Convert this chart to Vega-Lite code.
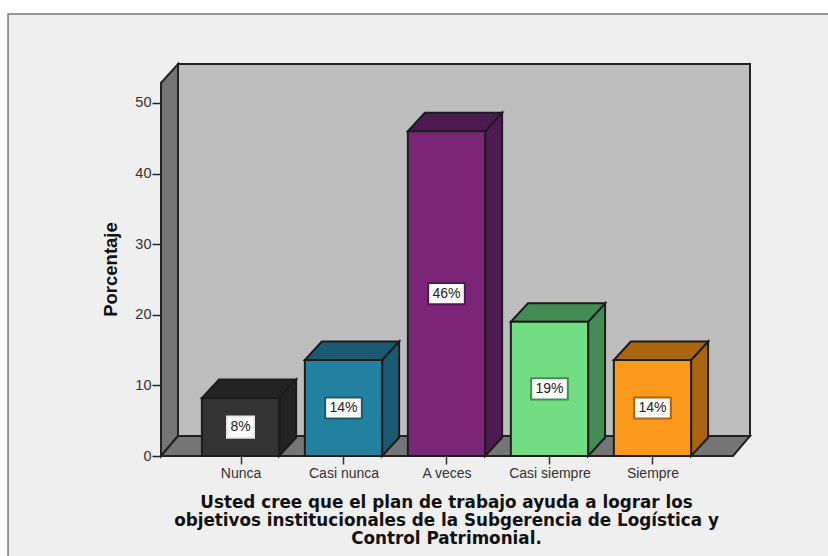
{
"$schema":"https://vega.github.io/schema/vega-lite/v6.json",
"autosize":"none","width":589,"height":392,
"padding":{"left":161,"top":64,"right":78,"bottom":100},
"background":"white",
"config":{"view":{"stroke":null},"font":"Liberation Sans"},
"resolve":{"axis":{"x":"independent","y":"independent"}},
"layer":[
{"data":{"values":[{"x":-1.257,"x2":8,"y":62.6,"y2":-15}]},"mark":{"type":"rect","fill":"#efefef","stroke":"#7a7a7a","strokeWidth":1.5},
"encoding":{
"x":{"field":"x","type":"quantitative","scale":{"domain":[0.228,5.947],"nice":false,"zero":false},
"axis":{"values":[1,2,3,4,5],"labelExpr":"['Nunca','Casi nunca','A veces','Casi siempre','Siempre'][datum.value-1]","grid":false,"domain":false,"tickSize":8,"tickWidth":1.5,"tickColor":"#333333","labelFontSize":14,"labelColor":"#333333","labelPadding":2,"labelFlush":false,"labelOverlap":false,"zindex":1,
"title":["Usted cree que el plan de trabajo ayuda a lograr los","objetivos institucionales de la Subgerencia de Logística y","Control Patrimonial."],
"titleFont":"DejaVu Sans","titleFontSize":16.8,"titleFontWeight":"bold","titleColor":"#111111","titleX":285,"titleY":51,"titleAlign":"center","titleBaseline":"alphabetic","titleLineHeight":18}},
"x2":{"field":"x2"},
"y":{"field":"y","type":"quantitative","scale":{"domain":[0,55.52],"nice":false,"zero":false},
"axis":{"values":[0,10,20,30,40,50],"grid":false,"domain":false,"tickSize":9,"tickWidth":1.5,"tickColor":"#222222","labelFontSize":14.5,"labelColor":"#333333","labelPadding":1,"zindex":1,
"title":"Porcentaje","titleFont":"Liberation Sans","titleFontSize":18.5,"titleFontWeight":"bold","titleColor":"#111111","titleX":-45,"titleY":205,"titleAlign":"center","titleBaseline":"alphabetic"}},
"y2":{"field":"y2"}}},
{"data":{"values":[{"x":0.393,"x2":5.947,"y":2.83,"y2":55.52}]},"mark":{"type":"rect","fill":"#bdbdbd","stroke":"#222222","strokeWidth":2},
"encoding":{"x":{"field":"x","type":"quantitative","axis":null},"x2":{"field":"x2"},"y":{"field":"y","type":"quantitative","axis":null},"y2":{"field":"y2"}}},
{"data":{"values":[{"fondo":0},{"fondo":1}]},
"transform":[{"calculate":"0.228+datum.fondo*0.165","as":"x"},{"calculate":"datum.fondo*2.83","as":"y"},{"calculate":"52.83+datum.fondo*2.69","as":"y2"}],
"mark":{"type":"area","orient":"vertical","fill":"#757575","stroke":"#222222","strokeWidth":2},
"encoding":{"x":{"field":"x","type":"quantitative","axis":null},"y":{"field":"y","type":"quantitative","stack":null,"axis":null},"y2":{"field":"y2"}}},
{"data":{"values":[{"fondo":0},{"fondo":1}]},
"transform":[{"calculate":"0.228+datum.fondo*0.165","as":"x"},{"calculate":"5.782+datum.fondo*0.165","as":"x2"},{"calculate":"datum.fondo*2.83","as":"y"}],
"mark":{"type":"area","orient":"horizontal","fill":"#757575","stroke":"#222222","strokeWidth":2},
"encoding":{"y":{"field":"y","type":"quantitative","axis":null},"x":{"field":"x","type":"quantitative","stack":null,"axis":null},"x2":{"field":"x2"}}},
{"data":{"name":"barras","values":[
{"categoria":"Nunca","porcentaje":8.2},
{"categoria":"Casi nunca","porcentaje":13.6},
{"categoria":"A veces","porcentaje":46},
{"categoria":"Casi siempre","porcentaje":19},
{"categoria":"Siempre","porcentaje":13.6}
]},
"transform":[{"calculate":"indexof(['Nunca','Casi nunca','A veces','Casi siempre','Siempre'],datum.categoria)+1","as":"pos"},{"calculate":"[0,1]","as":"fondo"},{"flatten":["fondo"]},
{"calculate":"datum.pos+0.375+datum.fondo*0.165","as":"x"},{"calculate":"datum.fondo*2.62","as":"y"},{"calculate":"datum.porcentaje+datum.fondo*2.62","as":"y2"},{"calculate":"datum.categoria+' lateral'","as":"cara"}],
"mark":{"type":"area","orient":"vertical","stroke":"#1c1c1c","strokeWidth":2},
"encoding":{"x":{"field":"x","type":"quantitative","axis":null},"y":{"field":"y","type":"quantitative","stack":null,"axis":null},"y2":{"field":"y2"},
"fill":{"field":"cara","type":"nominal","legend":null,"scale":{"domain":["Nunca","Casi nunca","A veces","Casi siempre","Siempre","Nunca lateral","Casi nunca lateral","A veces lateral","Casi siempre lateral","Siempre lateral"],"range":["#333333","#23809f","#7b2579","#72dd83","#fb991c","#232323","#1a5a72","#4e1a52","#448c55","#a9660f"]}}}},
{"data":{"name":"barras"},"transform":[{"calculate":"indexof(['Nunca','Casi nunca','A veces','Casi siempre','Siempre'],datum.categoria)+1","as":"pos"},{"calculate":"[0,1]","as":"fondo"},{"flatten":["fondo"]},
{"calculate":"datum.pos-0.375+datum.fondo*0.165","as":"x"},{"calculate":"datum.pos+0.375+datum.fondo*0.165","as":"x2"},{"calculate":"datum.porcentaje+datum.fondo*2.62","as":"y"},{"calculate":"datum.categoria+' lateral'","as":"cara"}],
"mark":{"type":"area","orient":"horizontal","stroke":"#1c1c1c","strokeWidth":2},
"encoding":{"y":{"field":"y","type":"quantitative","axis":null},"x":{"field":"x","type":"quantitative","stack":null,"axis":null},"x2":{"field":"x2"},
"fill":{"field":"cara","type":"nominal","legend":null}}},
{"data":{"name":"barras"},"transform":[{"calculate":"indexof(['Nunca','Casi nunca','A veces','Casi siempre','Siempre'],datum.categoria)+1","as":"pos"},{"calculate":"datum.pos-0.375","as":"x"},{"calculate":"datum.pos+0.375","as":"x2"},{"calculate":"0","as":"y"}],
"mark":{"type":"rect","stroke":"#1c1c1c","strokeWidth":2},
"encoding":{"x":{"field":"x","type":"quantitative","axis":null},"x2":{"field":"x2"},"y":{"field":"y","type":"quantitative","axis":null},"y2":{"field":"porcentaje"},
"fill":{"field":"categoria","type":"nominal","legend":null}}},
{"data":{"name":"barras"},"transform":[{"calculate":"indexof(['Nunca','Casi nunca','A veces','Casi siempre','Siempre'],datum.categoria)+1","as":"pos"},{"calculate":"format(datum.porcentaje,'.0f')+'%'","as":"etiqueta"},{"calculate":"length(datum.etiqueta)==2?0.131:0.178","as":"ancho"},{"calculate":"datum.pos-datum.ancho","as":"x"},{"calculate":"datum.pos+datum.ancho","as":"x2"},{"calculate":"datum.porcentaje/2-1.5","as":"y"},{"calculate":"datum.porcentaje/2+1.5","as":"y2"},{"calculate":"datum.categoria+' lateral'","as":"cara"}],
"mark":{"type":"rect","fill":"white","strokeWidth":2},
"encoding":{"x":{"field":"x","type":"quantitative","axis":null},"x2":{"field":"x2"},"y":{"field":"y","type":"quantitative","axis":null},"y2":{"field":"y2"},
"stroke":{"field":"cara","type":"nominal","legend":null,"scale":{"domain":["Nunca lateral","Casi nunca lateral","A veces lateral","Casi siempre lateral","Siempre lateral"],"range":["#e8e8e8","#1a5a72","#4e1a52","#448c55","#a9660f"]}}}},
{"data":{"name":"barras"},"transform":[{"calculate":"indexof(['Nunca','Casi nunca','A veces','Casi siempre','Siempre'],datum.categoria)+1","as":"pos"},{"calculate":"format(datum.porcentaje,'.0f')+'%'","as":"etiqueta"},{"calculate":"datum.porcentaje/2","as":"y"}],
"mark":{"type":"text","font":"Liberation Sans","fontSize":14,"color":"#222222","baseline":"middle","align":"center"},
"encoding":{"x":{"field":"pos","type":"quantitative","axis":null},"y":{"field":"y","type":"quantitative","axis":null},"text":{"field":"etiqueta","type":"nominal"}}}
]
}
